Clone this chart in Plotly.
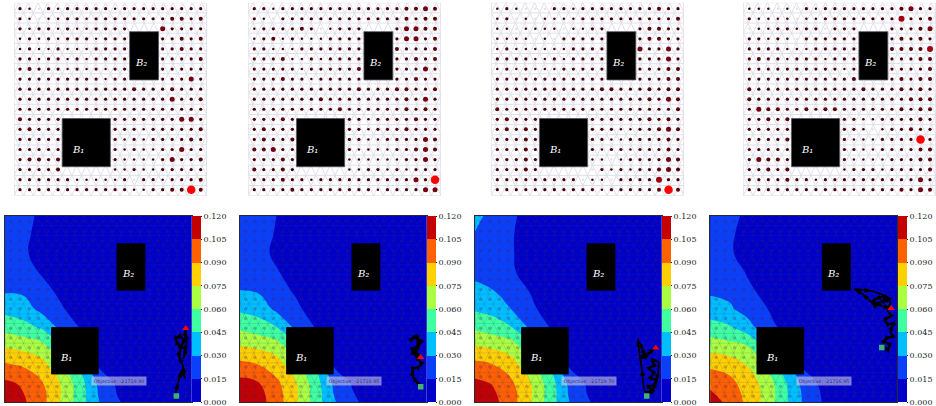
import plotly.graph_objects as go

W, H = 936, 406

# size class of each mesh-point dot, top row first (0 = no dot, 7 = the red maximum)
DOTS_A = [
 "32132333332333333333","32122332333333334434","323323223333"+"000"+"53333",
 "232323332333"+"000"+"33434","232232223333"+"000"+"33433","332332323333"+"000"+"33334",
 "343332323233"+"000"+"33333","333333333233"+"000"+"33353","33333333333343334333",
 "33333333333333335334","33333333333333333333","43333"+"00000"+"3333333553",
 "34333"+"00000"+"3332333334","33333"+"00000"+"3232333343","33333"+"00000"+"3232233533",
 "34434"+"00000"+"3222235334","33334"+"00000"+"2232233333","33333322222313323334",
 "33333333333322334474"]
DOTS_B = [
 "33233333333333334454","32133333333333334344","233334312333"+"000"+"35544",
 "234232223333"+"000"+"35534","332223333333"+"000"+"43334","333422323333"+"000"+"33434",
 "333332333334"+"000"+"33353","333433233333"+"000"+"33433","33333333333433344334",
 "33333334333333334353","33333333343333334343","33343"+"00000"+"3323333433",
 "34333"+"00000"+"3323334333","34334"+"00000"+"3322333354","44533"+"00000"+"3222233454",
 "33343"+"00000"+"2222223353","43343"+"00000"+"2233232333","33343323333333333537",
 "33334333333332333355"]
DOTS_C = [
 "23211133233333333433","23121222233333333334","221222212233"+"000"+"34433",
 "222212133333"+"000"+"34433","232222223333"+"000"+"53353","333322323333"+"000"+"33353",
 "232322233333"+"000"+"33344","333333333333"+"000"+"33344","33333333333443334344",
 "33333333333333334354","43333333333333333334","34333"+"00000"+"3333334343",
 "34343"+"00000"+"3332233454","33343"+"00000"+"3322333343","33343"+"00000"+"3233233343",
 "33343"+"00000"+"2212333354","33343"+"00000"+"1323233454","33333333312213333633",
 "33333333333233333474"]
DOTS_D = [
 "22212132333333334533","32222122333333336334","122332331333"+"000"+"33345",
 "332321333333"+"000"+"34343","333322233333"+"000"+"44446","343323332333"+"000"+"33344",
 "333333333323"+"000"+"33334","333333333334"+"000"+"34344","43333333333343334343",
 "43333333333333333444","35443343443333334344","33434"+"00000"+"3322333343",
 "33333"+"00000"+"3321233433","33334"+"00000"+"3222333373","33333"+"00000"+"3322333344",
 "35443"+"00000"+"3222233344","33434"+"00000"+"2333233334","33334332333333333353",
 "33333333333233334354"]

CLASS_SIZE = {"1": 2.4, "2": 2.5, "3": 3.2, "4": 4.0, "5": 5.0, "6": 6.0, "7": 8.5}
CLASS_COLOR = {"1": "#e6dfe0", "2": "#3d0810", "3": "#45000a", "4": "#5a0008",
               "5": "#750010", "6": "#a00010", "7": "#ff0000"}

# contour field, thousandths, bottom row first
Z_X = [0, .1, .2, .3, .4, .5, .6, .7, .85, 1]
Z_Y = [0, .1, .2, .3, .4, .5, .6, .7, .8, .9, 1]
Z_A = [
 [119,107,95,74,52,31,16.5,9,3,3],[108,103,91,74,52,27.5,12.5,7,3,3],
 [92,88,80,62,42,13.5,7,5,3,3],[73,70,65,45,30,9,5,3,3,3],
 [55,50,43,26,14.5,6,4,3,3,3],[40,37,25,16.5,9,4,3,3,3,3],
 [28,27,19,12,6,3,3,3,3,3],[24,20,13.5,9,5,3,3,3,3,3],
 [22,16.5,11,8,5,3,3,3,3,3],[23,17,12,8,5,3,3,3,3,3],[25,18,13,8,5,3,3,3,3,3]]
Z_B = [
 [119,111,97,77,54,32,18,10,3,3],[110,106,93,76,53,28,14,8,3,3],
 [94,90,82,64,44,14,8,5,3,3],[75,72,67,47,32,9,5,3,3,3],
 [57,52,45,27,15,6,4,3,3,3],[42,39,26,18,9,4,3,3,3,3],
 [30,28,20,13,7,3,3,3,3,3],[25,22,15.5,11,6,3,3,3,3,3],
 [23,18,13,9,5,3,3,3,3,3],[24,19,14,9,5,3,3,3,3,3],[26,20,14.8,9,5,3,3,3,3,3]]
Z_C = [
 [119,109,96,75,53,31,16.5,9,3,3],[109,104,92,75,53,28,13,7,3,3],
 [94,90,81,63,43,14,7,5,3,3],[75,72,67,47,31,9,5,3,3,3],
 [57,52,45,27,15,6,4,3,3,3],[43,40,29,18,9,4,3,3,3,3],
 [32,30,21,14,7,3,3,3,3,3],[28,24,16,11,6,3,3,3,3,3],
 [27,21,15.5,11,6,3,3,3,3,3],[29,21,15.5,11,6,3,3,3,3,3],[36,23,16.5,11,6,3,3,3,3,3]]
Z_D = [
 [115,100,87,70,48,28,14.5,8,3,3],[100,95,83,69,47,25,11,6,3,3],
 [87,84,74,57,37,12,6,4,3,3],[68,65,60,41,25,8,4,3,3,3],
 [51,47,37,20,12,5,3,3,3,3],[37,33,23,15.5,7,3,3,3,3,3],
 [27,25,17,12,5,3,3,3,3,3],[23,20,14,9,4,3,3,3,3,3],
 [21,16.5,11,7,4,3,3,3,3,3],[22,16.5,12,8,4,3,3,3,3,3],[24,18,13,8,4,3,3,3,3,3]]

LEVEL_COLORS = ["#0000c8", "#0a40fa", "#00bfff", "#3fffa0", "#aaff40", "#ffd000", "#ff6000", "#c40000"]
TICK_LABELS = ["0.000", "0.015", "0.030", "0.045", "0.060", "0.075", "0.090", "0.105", "0.120"]
TICKS = [0, .015, .03, .045, .06, .075, .09, .105, .12]

# optimiser walks, start first
WALK_A_X = [.918,.915,.929,.947,.964,.952,.929,.943,.920,.915,.947,.959,.947,.968,.956,.973,.966,.968]
WALK_A_Y = [.032,.055,.109,.172,.127,.199,.252,.288,.324,.345,.345,.333,.297,.279,.234,.324,.377,.395]
WALK_B_X = [.968,.938,.923,.929,.956,.973,.952,.938,.920,.952,.968,.947,.920,.938,.956,.947,.929,.956,.968]
WALK_B_Y = [.082,.118,.145,.181,.186,.208,.231,.261,.284,.297,.327,.345,.338,.356,.324,.288,.261,.252,.240]
WALK_C_X = [.920,.947,.929,.959,.973,.938,.959,.934,.959,.947,.982,.973,.947,.911,.893,.872,.902,.920,.879,.929,.947,.968]
WALK_C_Y = [.032,.064,.082,.091,.118,.127,.154,.181,.199,.225,.216,.109,.055,.055,.181,.338,.270,.243,.234,.261,.275,.290]
WALK_D_X = [.918,.954,.964,.932,.950,.977,.964,.980,.950,.931,.968,.950,.964,.918,.874,.886,.861,.811,.770,.865,.966,.918,.891,.927,.968]
WALK_D_Y = [.292,.288,.306,.327,.345,.351,.381,.422,.417,.440,.463,.488,.538,.565,.547,.512,.538,.583,.606,.596,.553,.538,.530,.512,.503]

OBJECTIVES = ["Objective: -21719.90", "Objective: -21718.95", "Objective: -21719.70", "Objective: -21716.95"]

BOXES = [(.25, .5, .15, .40, "B₁"), (.6, .75, .6, .85, "B₂")]
LABEL_POS = [(.33, .24), (.658, .69)]

# panel frames in pixels
TOP_L = [14, 248.3, 491.3, 743.3]
TOP_W = 192.7
TOP_Y = (2.7, 195.7)
BOT_L = [4.8, 239.8, 474.8, 710.2]
BOT_W = 186.9
BOT_Y = (215.7, 402)

DOT_X0, DOT_STEP_X, DOT_Y0, DOT_STEP_Y = .031, .938 / 19, .031, .938 / 18

MESH_NX, MESH_NY = 20, 19


def mesh():
    # triangulated background: staggered rows of nodes joined in three directions
    xs, ys = [], []
    for j in range(MESH_NY + 1):
        xs += [0, 1, None]
        ys += [j / MESH_NY, j / MESH_NY, None]
    xs += [0, 0, None, 1, 1, None]
    ys += [0, 1, None, 0, 1, None]
    for j in range(MESH_NY):
        c, d = j / MESH_NY, (j + 1) / MESH_NY
        for i in range(MESH_NX + 1):
            a = (i + (.5 if j % 2 else 0)) / MESH_NX
            for b in ((i - .5 + (.5 if j % 2 else 0) + .5 * (j % 2 == 0) * 0) / MESH_NX,
                      (i + .5 + (.5 if j % 2 else 0)) / MESH_NX):
                xs += [min(max(a, 0), 1), min(max(b, 0), 1), None]
                ys += [c, d, None]
    return xs, ys


MX, MY = mesh()
fig = go.Figure()
layout = dict(
    width=W, height=H, paper_bgcolor="white", plot_bgcolor="white", showlegend=False,
    margin=dict(l=0, r=0, t=0, b=0, autoexpand=False), shapes=[], annotations=[],
)


def axes(n, left, width, ytop, ybot, frame):
    common = dict(range=[0, 1], showgrid=False, zeroline=False, showticklabels=False, ticks="",
                  showline=frame, mirror=frame, linecolor="#2a2a2a", linewidth=1)
    layout[f"xaxis{n}"] = dict(domain=[left / W, (left + width) / W], anchor=f"y{n}", **common)
    layout[f"yaxis{n}"] = dict(domain=[1 - ybot / H, 1 - ytop / H], anchor=f"x{n}", **common)


def boxes(n, edge):
    for (x0, x1, y0, y1, name), (lx, ly) in zip(BOXES, LABEL_POS):
        layout["shapes"].append(dict(type="rect", xref=f"x{n}", yref=f"y{n}", x0=x0, x1=x1, y0=y0, y1=y1,
                                     fillcolor="black", line=dict(color=edge, width=.8), layer="above"))
        layout["annotations"].append(dict(xref=f"x{n}", yref=f"y{n}", x=lx, y=ly, showarrow=False,
                                          text=name,
                                          font=dict(family="DejaVu Serif", size=10, color="white",
                                                    style="italic")))


for k, rows in enumerate([DOTS_A, DOTS_B, DOTS_C, DOTS_D]):
    n = k + 1
    axes(n, TOP_L[k], TOP_W, TOP_Y[0], TOP_Y[1], False)
    fig.add_trace(go.Scatter(x=MX, y=MY, mode="lines", xaxis=f"x{n}", yaxis=f"y{n}",
                             line=dict(color="#e0e0ec", width=1), hoverinfo="skip"))
    xs, ys, ss, cs = [], [], [], []
    for j, row in enumerate(rows):
        row = row.ljust(20, "3")[:20]
        for i, ch in enumerate(row):
            if ch != "0":
                xs.append(DOT_X0 + i * DOT_STEP_X)
                ys.append(1 - DOT_Y0 - j * DOT_STEP_Y)
                ss.append(CLASS_SIZE[ch])
                cs.append(CLASS_COLOR[ch])
    fig.add_trace(go.Scatter(x=xs, y=ys, mode="markers", xaxis=f"x{n}", yaxis=f"y{n}",
                             marker=dict(size=ss, color=cs, opacity=1, line=dict(width=0))))
    boxes(n, "#55555f")

scale = []
for i, c in enumerate(LEVEL_COLORS):
    scale += [[i / 8, c], [(i + 1) / 8, c]]

walks = [(WALK_A_X, WALK_A_Y), (WALK_B_X, WALK_B_Y), (WALK_C_X, WALK_C_Y), (WALK_D_X, WALK_D_Y)]
for k, (field, rows) in enumerate(zip([Z_A, Z_B, Z_C, Z_D], [DOTS_A, DOTS_B, DOTS_C, DOTS_D])):
    n = k + 5
    axes(n, BOT_L[k], BOT_W, BOT_Y[0], BOT_Y[1], True)
    fig.add_trace(go.Contour(
        x=Z_X, y=Z_Y, z=[[v / 1000 for v in r] for r in field], xaxis=f"x{n}", yaxis=f"y{n}",
        colorscale=scale, zmin=0, zmax=.12, hoverinfo="skip",
        contours=dict(start=0, end=.12, size=.015, coloring="fill", showlines=False),
        line=dict(width=0, smoothing=1.3),
        colorbar=dict(x=(BOT_L[k] + BOT_W + .5) / W, xanchor="left", xpad=0, ypad=0,
                      y=1 - BOT_Y[1] / H, yanchor="bottom", lenmode="pixels", len=BOT_Y[1] - BOT_Y[0],
                      thicknessmode="pixels", thickness=8.6, outlinewidth=0, borderwidth=0,
                      tickmode="array", tickvals=TICKS, ticktext=TICK_LABELS,
                      ticklabeloverflow="allow",
                      ticks="outside", ticklen=1.5, tickwidth=.7, tickcolor="#222",
                      tickfont=dict(family="DejaVu Serif", size=8, color="#222")),
    ))
    fig.add_trace(go.Scatter(x=MX, y=MY, mode="lines", xaxis=f"x{n}", yaxis=f"y{n}",
                             line=dict(color="rgba(60,60,130,0.26)", width=.6), hoverinfo="skip"))
    xs, ys = [], []
    for j, row in enumerate(rows):
        row = row.ljust(20, "3")[:20]
        for i, ch in enumerate(row):
            if ch != "0":
                xs.append(DOT_X0 + i * DOT_STEP_X)
                ys.append(1 - DOT_Y0 - j * DOT_STEP_Y)
    fig.add_trace(go.Scatter(x=xs, y=ys, mode="markers", xaxis=f"x{n}", yaxis=f"y{n}",
                             marker=dict(size=3.5, color="rgba(70,30,90,0.28)", opacity=1, line=dict(width=0))))
    wx, wy = walks[k]
    fig.add_trace(go.Scatter(x=wx, y=wy, mode="lines+markers", xaxis=f"x{n}", yaxis=f"y{n}",
                             line=dict(color="black", width=1.7, shape="spline", smoothing=.6),
                             marker=dict(symbol="arrow", size=8, color="black", opacity=1, angleref="previous",
                                         line=dict(width=0))))
    fig.add_trace(go.Scatter(x=wx[:1], y=wy[:1], mode="markers", xaxis=f"x{n}", yaxis=f"y{n}",
                             marker=dict(symbol="square", size=5.5, color="#3cb371", opacity=1, line=dict(width=0))))
    fig.add_trace(go.Scatter(x=wx[-1:], y=wy[-1:], mode="markers", xaxis=f"x{n}", yaxis=f"y{n}",
                             marker=dict(symbol="triangle-up", size=6.5, color="#ff0000", opacity=1, line=dict(width=0))))
    boxes(n, "black")
    layout["annotations"].append(dict(
        xref=f"x{n}", yref=f"y{n}", x=.61, y=.115, showarrow=False, text=OBJECTIVES[k], width=54, height=8,
        bgcolor="rgba(205,205,240,0.6)", borderpad=0,
        font=dict(family="DejaVu Sans", size=4.8, color="#30306a")))

fig.update_layout(**layout)
fig.write_html("out.html", config={"displayModeBar": False},
               post_script="document.body.style.margin='0';")
